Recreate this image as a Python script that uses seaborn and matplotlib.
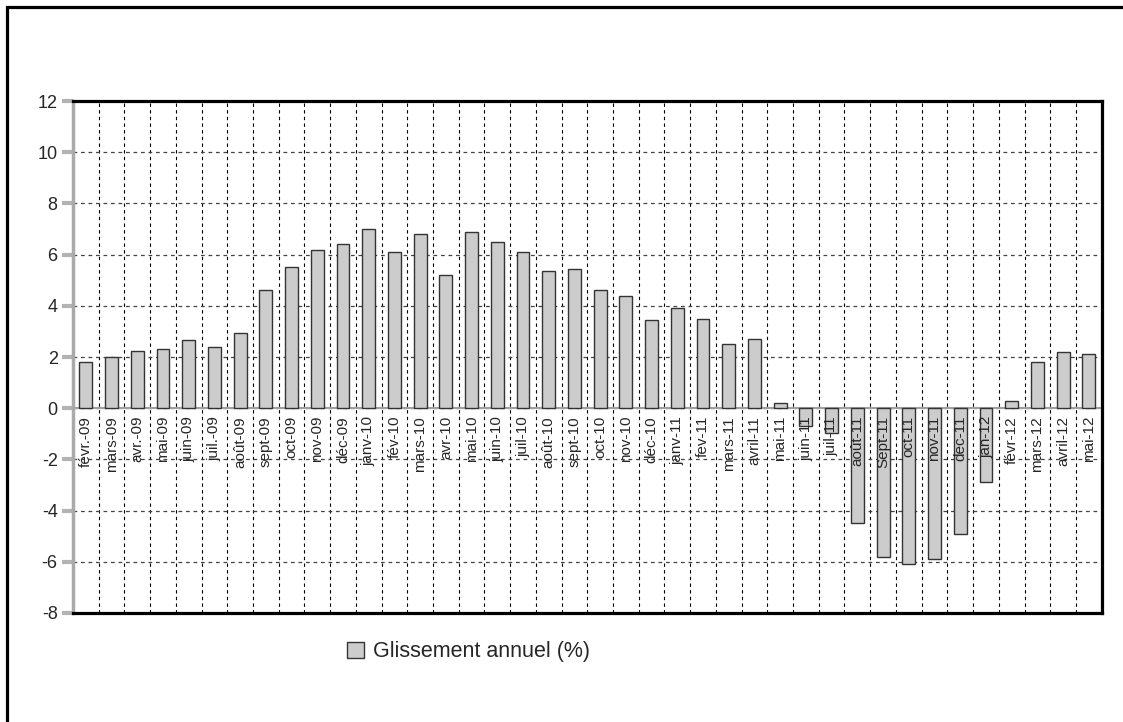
import numpy as np
import pandas as pd
import matplotlib
matplotlib.use('Agg')
import matplotlib.pyplot as plt
import matplotlib.patches as mpatches
import seaborn as sns

# Mois (étiquettes telles qu'écrites sur le graphique)
mois = ['févr.-09', 'mars-09', 'avr.-09', 'mai-09', 'juin-09', 'juil.-09', 'août-09',
        'sept-09', 'oct-09', 'nov-09', 'déc-09', 'janv-10', 'fév-10', 'mars-10',
        'avr-10', 'mai-10', 'juin-10', 'juil-10', 'août-10', 'sept-10', 'oct-10',
        'nov-10', 'déc-10', 'janv-11', 'fev-11', 'mars-11', 'avril-11', 'mai-11',
        'juin-11', 'juil-11', 'août-11', 'Sept-11', 'oct-11', 'nov-11', 'dec-11',
        'jan-12', 'févr-12', 'mars-12', 'avril-12', 'mai-12']

# Glissement annuel (%)
glissement = [1.8, 2.0, 2.25, 2.3, 2.65, 2.4, 2.95, 4.6, 5.5, 6.2, 6.4, 7.0, 6.1, 6.8,
              5.2, 6.9, 6.5, 6.1, 5.35, 5.45, 4.6, 4.4, 3.45, 3.9, 3.5, 2.5, 2.7, 0.2,
              -0.7, -0.95, -4.5, -5.8, -6.1, -5.9, -4.9, -2.9, 0.3, 1.8, 2.2, 2.1]

y_ticks = list(range(-8, 13, 2))

df = pd.DataFrame({'mois': mois, 'glissement': glissement})

sns.set_style('white')
plt.rcParams['font.family'] = ['Liberation Sans', 'DejaVu Sans']
plt.rcParams['axes.unicode_minus'] = False

fig = plt.figure(figsize=(11.23, 7.22), dpi=100)
ax = fig.add_axes([0.065, 0.151, 0.916, 0.709])

sns.barplot(data=df, x='mois', y='glissement', color='#cccccc', saturation=1,
            edgecolor='#333333', linewidth=1, width=0.5,
            label='Glissement annuel (%)', legend=False, ax=ax, zorder=3)

ax.set_xlim(-0.5, len(mois) - 0.5)
ax.set_ylim(-8, 12)
ax.set_yticks(y_ticks)
ax.set_xlabel('')
ax.set_ylabel('')

# grille en pointillés
ax.set_xticks(np.arange(0.5, len(mois) - 1, 1), minor=True)
ax.grid(which='minor', axis='x', color='black', linestyle=(0, (3, 3)), linewidth=0.8)
ax.grid(which='major', axis='y', color='#444444', linestyle=(0, (3, 3)), linewidth=0.9)
ax.set_axisbelow(True)
ax.axhline(0, color='#a0a0a0', linewidth=1.5, zorder=2)

ax.set_xticks(range(len(mois)))
ax.set_xticklabels([])
ax.tick_params(axis='x', which='both', length=0)
ax.tick_params(axis='y', left=True, length=8, width=3, color='#b3b3b3', labelsize=13, pad=3)

# étiquettes des mois juste sous l'axe zéro
for i, m in enumerate(mois):
    ax.text(i, -0.3, m, rotation=90, ha='center', va='top', fontsize=11, zorder=4)

for side in ['top', 'right', 'bottom']:
    ax.spines[side].set_color('black')
    ax.spines[side].set_linewidth(2.3)
ax.spines['left'].set_color('#aaaaaa')
ax.spines['left'].set_linewidth(2.5)

handle = mpatches.Patch(facecolor='#cccccc', edgecolor='#333333', linewidth=1)
fig.legend([handle], ['Glissement annuel (%)'], loc='center', bbox_to_anchor=(0.417, 0.097),
           frameon=False, fontsize=15.5, handlelength=0.8, handleheight=0.8, handletextpad=0.4)

# cadre extérieur
fig.add_artist(mpatches.Rectangle((6.5 / 1123, -0.1), 1.2, 0.1 + 1 - 6.5 / 722,
                                  transform=fig.transFigure, fill=False,
                                  edgecolor='black', linewidth=2.3))

fig.savefig('out.png', dpi=100)
